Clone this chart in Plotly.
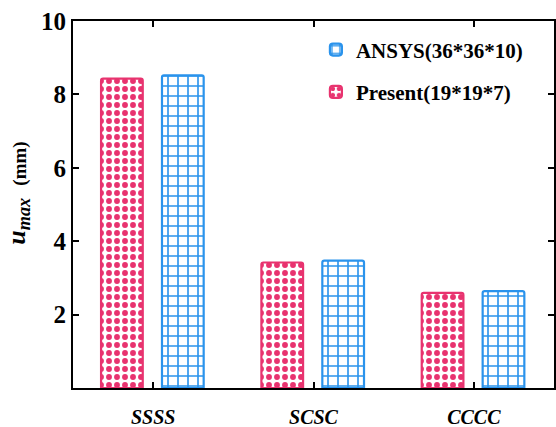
import plotly.graph_objects as go

categories = ["SSSS", "SCSC", "CCCC"]
present_vals = [8.43, 3.42, 2.59]
ansys_vals = [8.52, 3.47, 2.64]
present_name = "Present(19*19*7)"
ansys_name = "ANSYS(36*36*10)"
y_ticks = [2, 4, 6, 8, 10]
y_title_sym = "<b><i>u</i><sub><i>max</i></sub></b>"
y_title_unit = "<b>(mm)</b>"

PINK = "#E8336F"
BLUE = "#2A93EC"
FONT = "Liberation Serif"

fig = go.Figure()
fig.add_trace(go.Bar(
    x=categories, y=present_vals, name=present_name, legendgroup="p", legendrank=2,
    width=0.26, offset=-0.325,
    marker=dict(color="white", line=dict(color=PINK, width=2.2), cornerradius=2,
                pattern=dict(shape=".", fgcolor=PINK, bgcolor="white", size=8,
                             solidity=0.42, fillmode="replace")),
))
fig.add_trace(go.Bar(
    x=categories, y=ansys_vals, name=ansys_name, legendgroup="a", legendrank=1,
    width=0.26, offset=0.055,
    marker=dict(color="white", line=dict(color=BLUE, width=2.2), cornerradius=2,
                pattern=dict(shape="+", fgcolor=BLUE, bgcolor="white", size=10,
                             solidity=0.3, fillmode="replace")),
))

fig.update_layout(
    width=556, height=427,
    margin=dict(l=73, r=2, t=21, b=39, autoexpand=False),
    plot_bgcolor="white", paper_bgcolor="white",
    font=dict(family=FONT, color="black"),
    showlegend=True,
    legend=dict(x=0.505, y=0.977, xanchor="left", yanchor="top",
                traceorder="grouped", bgcolor="rgba(0,0,0,0)",
                font=dict(family=FONT, size=21, color="black", weight="bold"),
                tracegroupgap=12, itemwidth=30),
    xaxis=dict(range=[-0.5, 2.5], showline=True, linecolor="black", linewidth=2,
               mirror="ticks", ticks="inside", ticklen=6, tickwidth=2, tickcolor="black",
               tickfont=dict(family=FONT, size=20, color="black", weight="bold", style="italic"),
               ticklabelstandoff=10, automargin=False, ticklabeloverflow="allow"),
    yaxis=dict(range=[0, 10], showline=True, linecolor="black", linewidth=2,
               mirror="ticks", ticks="inside", ticklen=6, tickwidth=2, tickcolor="black",
               tickvals=y_ticks, showgrid=False, zeroline=False, automargin=False,
               ticklabeloverflow="allow",
               tickfont=dict(family=FONT, size=25, color="black", weight="bold")),
    annotations=[
        dict(text=y_title_sym, xref="paper", yref="paper",
             x=-0.115, y=0.455, xanchor="center", yanchor="middle",
             textangle=-90, showarrow=False,
             font=dict(family=FONT, size=26, color="black")),
        dict(text=y_title_unit, xref="paper", yref="paper",
             x=-0.109, y=0.61, xanchor="center", yanchor="middle",
             textangle=-90, showarrow=False,
             font=dict(family=FONT, size=19, color="black")),
    ],
)

fig.write_html("out.html", config={"displayModeBar": False},
               post_script="document.body.style.margin='0';document.body.style.overflow='hidden';")
